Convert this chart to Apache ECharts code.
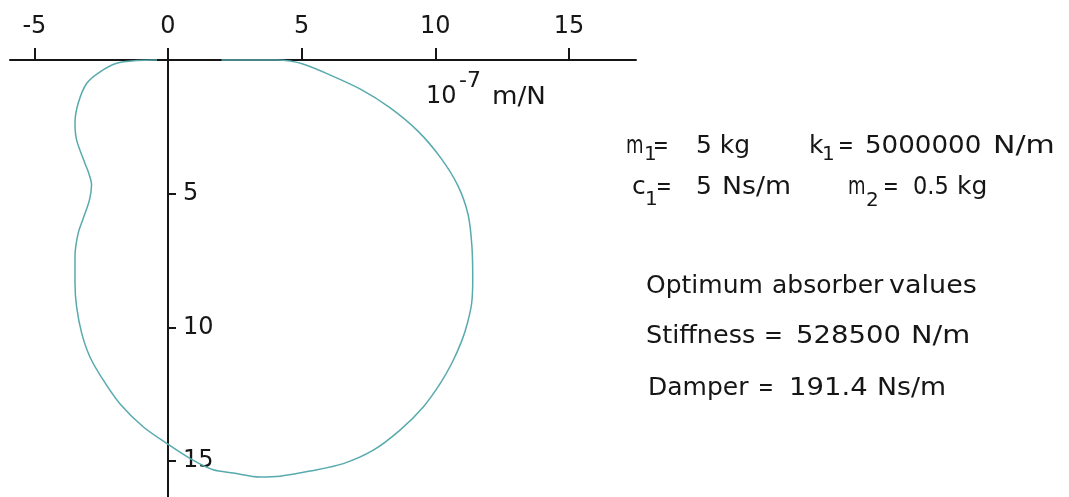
<!DOCTYPE html>
<html>
<head>
<meta charset="utf-8">
<script src="https://cdn.jsdelivr.net/npm/echarts@6/dist/echarts.min.js"></script>
<style>
  html, body { margin: 0; padding: 0; background: #fff; }
  #chart { width: 1069px; height: 497px; }
</style>
</head>
<body>
<div id="chart"></div>
<script>
// Receptance locus of the main mass with the damped absorber attached (units of 1e-7 m/N)
const receptanceRe = [2.00, 4.08, 4.56, 5.05, 5.95, 7.18, 8.30, 9.35, 10.21, 10.85, 11.23, 11.37, 11.40,
  11.36, 11.20, 11.00, 10.64, 10.18, 9.55, 8.68, 7.68, 6.56, 5.31, 4.19, 3.44, 2.44, 1.69, 0.95, 0.01,
  -0.92, -1.80, -2.42, -2.92, -3.23, -3.42, -3.48, -3.48, -3.36, -3.14, -2.94, -2.86, -2.98, -3.11,
  -3.42, -3.48, -3.36, -3.04, -2.54, -1.92, -1.17, -0.41];
const receptanceIm = [0, 0, 0.04, 0.15, 0.51, 1.08, 1.78, 2.66, 3.67, 4.71, 5.80, 6.98, 8.23,
  9.10, 9.85, 10.48, 11.30, 12.11, 12.98, 13.85, 14.60, 15.10, 15.38, 15.57, 15.60, 15.45, 15.33, 14.98, 14.38,
  13.73, 12.86, 11.98, 11.11, 10.22, 9.23, 8.35, 7.36, 6.48, 5.84, 5.24, 4.67, 4.19, 3.86,
  2.99, 2.37, 1.62, 0.87, 0.44, 0.12, 0.02, 0];
const realTicks = [-5, 0, 5, 10, 15];
const imagTicks = [5, 10, 15];

const locus = receptanceRe.map((re, i) => [re, receptanceIm[i]]);

const FONT = 'DejaVu Sans';
const INK = '#161616';

// one run of text placed by its left edge and baseline, optionally stretched horizontally
function txt(text, x, baseline, size, sx) {
  return {
    type: 'text',
    x: x,
    y: baseline - size * 0.76,
    scaleX: sx || 1,
    style: { text: text, fontFamily: FONT, fontSize: size, fill: INK, align: 'left', verticalAlign: 'top' }
  };
}

const labels = [
  // unit of the real axis
  txt('10', 426, 103, 24), txt('-7', 459, 87, 22), txt('m/N', 492, 104, 24, 1.09),
  // system parameters
  txt('m', 626, 153, 25, 0.72), txt('1', 644, 160, 20), txt('=', 653, 153, 25, 0.75), txt('5 kg', 696, 153, 25),
  txt('k', 809, 153, 25), txt('1', 822, 160, 20), txt('=', 838, 153, 25, 0.75), txt('5000000', 865, 153, 25, 1.045),
  txt('N/m', 993, 153, 25, 1.2),
  txt('c', 632, 194, 25), txt('1', 645, 205, 20), txt('=', 656, 194, 25, 0.75), txt('5', 696, 194, 25),
  txt('Ns/m', 722, 194, 25, 1.07),
  txt('m', 848, 194, 25, 0.72), txt('2', 866, 206, 20), txt('=', 883, 194, 25, 0.75), txt('0.5', 913, 194, 25, 0.9),
  txt('kg', 957, 194, 25),
  // absorber tuning
  txt('Optimum', 646, 293, 25), txt('absorber', 772, 293, 25), txt('values', 889, 293, 25, 1.08),
  txt('Stiffness', 646, 343, 25, 1.02), txt('=', 764, 343, 25, 0.9), txt('528500', 796, 343, 25, 1.1),
  txt('N/m', 911, 343, 25, 1.15),
  txt('Damper', 648, 395, 25), txt('=', 758, 395, 25, 0.75), txt('191.4', 789, 395, 25, 1.1),
  txt('Ns/m', 877, 395, 25, 1.07)
];

const chart = echarts.init(document.getElementById('chart'), null, { renderer: 'canvas' });
chart.setOption({
  animation: false,
  backgroundColor: '#ffffff',
  grid: { left: 10, right: 433, top: 60, bottom: 0, containLabel: false },
  xAxis: {
    type: 'value',
    position: 'top',
    min: -5.911,
    max: 17.508,
    splitLine: { show: false },
    axisLine: { onZero: false, lineStyle: { color: INK, width: 2 } },
    axisTick: { show: true, inside: false, length: 12, lineStyle: { color: INK, width: 2 }, customValues: realTicks },
    axisLabel: { customValues: realTicks, margin: 21, fontFamily: FONT, fontSize: 24, color: INK }
  },
  yAxis: {
    type: 'value',
    inverse: true,
    min: 0,
    max: 16.35,
    // the imaginary axis sits on real = 0
    offset: -158,
    splitLine: { show: false },
    axisLine: { onZero: false, lineStyle: { color: INK, width: 2 } },
    axisTick: { show: true, inside: true, length: 8, lineStyle: { color: INK, width: 2 }, customValues: imagTicks },
    axisLabel: { inside: true, customValues: imagTicks, margin: 15, fontFamily: FONT, fontSize: 24, color: INK }
  },
  series: [{
    type: 'line',
    data: locus,
    showSymbol: false,
    smooth: 0.3,
    clip: false,
    lineStyle: { color: '#58aaad', width: 1.5 },
    z: 5
  }],
  graphic: labels
});
</script>
</body>
</html>
